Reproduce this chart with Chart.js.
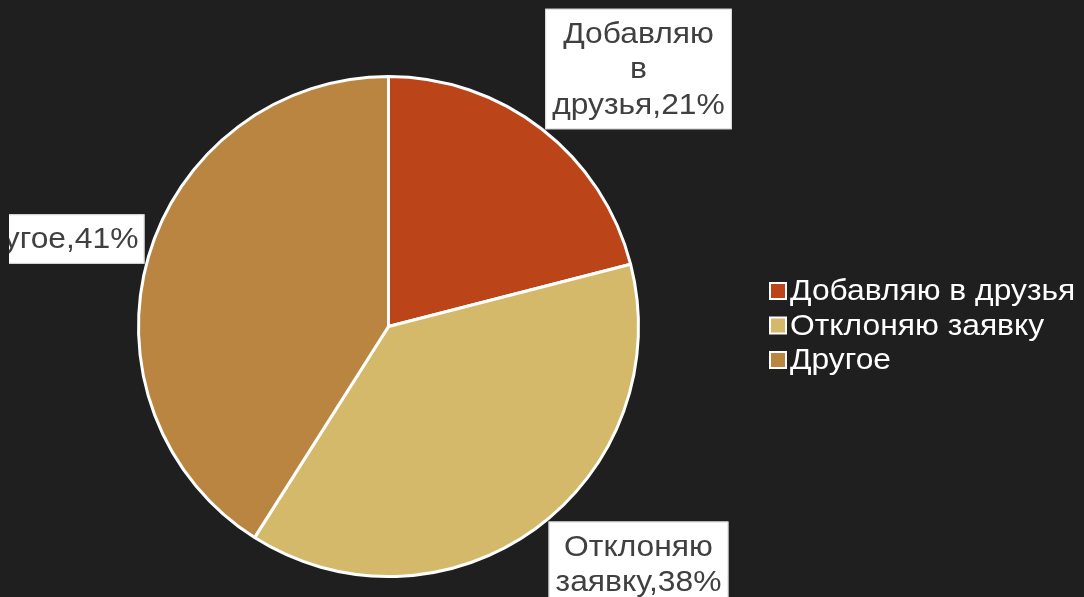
<!DOCTYPE html>
<html>
<head>
<meta charset="utf-8">
<script src="https://cdn.jsdelivr.net/npm/chart.js@4"></script>
<style>
  html, body { margin: 0; padding: 0; background: #1f1f1f; }
  #wrap { width: 1084px; height: 597px; position: relative; }
</style>
</head>
<body>
<div id="wrap"><canvas id="pieChart"></canvas></div>
<script>
const categories = ['Добавляю в друзья', 'Отклоняю заявку', 'Другое'];
const shares = [21, 38, 41]; // percent
const sliceColors = ['#bb4519', '#d4b96b', '#ba8541'];
// data label text, split into lines as on the slide
const labelLines = [
  ['Добавляю', 'в', 'друзья,21%'],
  ['Отклоняю', 'заявку,38%'],
  ['Другое,41%']
];
// where each label box sits, relative to pie centre, in radii
const labelSpots = [[1.0, -1.03, 'center'], [1.0, 0.95, 'center'], [-1.0, -0.35, 'right']];

const FONT = '30px "Liberation Sans", Arial, sans-serif';
const SX = 1.06; // slide text is slightly stretched horizontally

function wideText(c, t, x, y, align) {
  c.save();
  c.translate(x, y);
  c.scale(SX, 1);
  c.textAlign = align;
  c.fillText(t, 0, 0);
  c.restore();
}

const labelsAndLegend = {
  id: 'labelsAndLegend',
  afterDraw(chart) {
    const c = chart.ctx;
    const arcs = chart.getDatasetMeta(0).data;
    const cx = arcs[0].x, cy = arcs[0].y, r = arcs[0].outerRadius;
    c.save();
    c.beginPath();
    c.rect(9, 0, chart.width - 9, chart.height);
    c.clip();
    c.font = FONT;
    c.textBaseline = 'middle';
    const lh = 35.5;
    labelLines.forEach((lines, i) => {
      const [fx, fy, align] = labelSpots[i];
      const w = Math.max(...lines.map(t => c.measureText(t).width)) * SX + 14;
      const h = lines.length * lh + 14;
      let x0;
      const ax = cx + fx * r, ay = cy + fy * r;
      if (align === 'right') x0 = ax + 6 - w; else x0 = ax - w / 2;
      const y0 = ay - h / 2;
      c.fillStyle = '#ffffff';
      c.fillRect(x0, y0, w, h);
      c.strokeStyle = '#d8d8d8';
      c.lineWidth = 1;
      c.strokeRect(x0 + 0.5, y0 + 0.5, w - 1, h - 1);
      c.fillStyle = '#404040';
      lines.forEach((t, k) => {
        const ty = y0 + 7 + lh / 2 + k * lh + 1;
        if (align === 'right') wideText(c, t, x0 + w - 6, ty, 'right');
        else wideText(c, t, x0 + w / 2, ty, 'center');
      });
    });
    c.restore();

    // legend
    c.save();
    c.font = FONT;
    c.textBaseline = 'middle';
    const lx = 770, ly = 291, step = 34.5;
    categories.forEach((name, i) => {
      const y = ly + i * step;
      c.fillStyle = sliceColors[i];
      c.fillRect(lx, y - 8, 16, 16);
      c.strokeStyle = '#ffffff';
      c.lineWidth = 2;
      c.strokeRect(lx, y - 8, 16, 16);
      c.fillStyle = '#ffffff';
      wideText(c, name, lx + 20, y + 1, 'left');
    });
    c.restore();
  }
};

new Chart(document.getElementById('pieChart'), {
  type: 'pie',
  data: {
    labels: categories,
    datasets: [{
      data: shares,
      backgroundColor: sliceColors,
      borderColor: '#ffffff',
      borderWidth: 3
    }]
  },
  options: {
    responsive: true,
    maintainAspectRatio: false,
    animation: false,
    layout: { padding: { top: 75, bottom: 19, left: 137, right: 444 } },
    plugins: {
      legend: { display: false },
      tooltip: { enabled: false }
    }
  },
  plugins: [labelsAndLegend]
});
</script>
</body>
</html>
